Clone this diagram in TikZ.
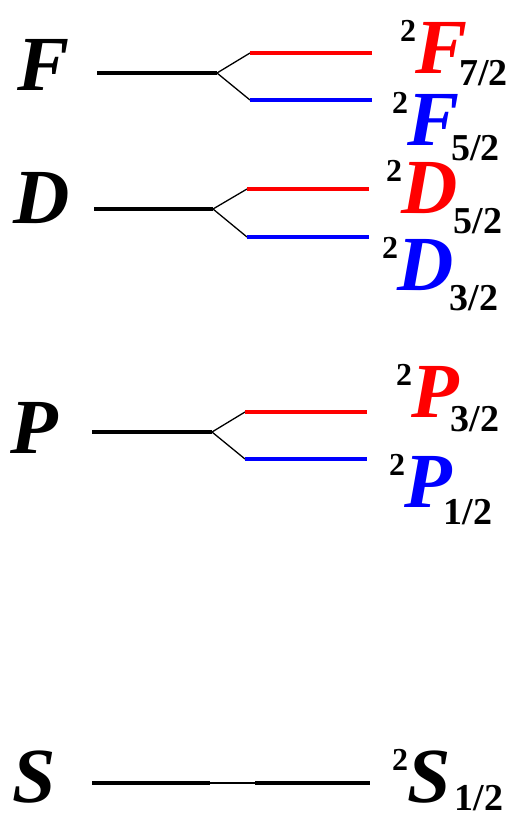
\documentclass[tikz,border=0pt]{standalone}
\usepackage{fontspec}
\setmainfont{Liberation Serif}
\usetikzlibrary{positioning}

% big term letter, small multiplicity and j
\newcommand{\bigL}{\fontsize{78}{78}\selectfont\bfseries\itshape}
\newcommand{\termlbl}[5][-8pt]{%
  \raisebox{32pt}{\fontsize{32}{32}\selectfont\bfseries 2}\kern-1pt%
  {\color{#2}\bigL #3}\kern#1%
  \raisebox{-#5pt}{\fontsize{38}{38}\selectfont\bfseries #4}}

\begin{document}
\begin{tikzpicture}[
  x=1pt, y=-1pt,
  level/.style={line width=4pt},
  split/.style={line width=1.3pt},
  orb/.style={anchor=base west, inner sep=0pt, font=\bigL},
  term/.style={anchor=base west, inner sep=0pt},
]
\useasboundingbox (0,0) rectangle (513,820);

% --- level end points ---
\coordinate (Fs) at (97,73);   \coordinate (Fk) at (217,73);
\coordinate (Fhi) at (250,53); \coordinate (Fhie) at (372,53);
\coordinate (Flo) at (250,100);\coordinate (Floe) at (372,100);

\coordinate (Ds) at (94,209);  \coordinate (Dk) at (213,209);
\coordinate (Dhi) at (247,189);\coordinate (Dhie) at (369,189);
\coordinate (Dlo) at (247,237);\coordinate (Dloe) at (369,237);

\coordinate (Ps) at (92,432);  \coordinate (Pk) at (212,432);
\coordinate (Phi) at (245,412);\coordinate (Phie) at (367,412);
\coordinate (Plo) at (245,459);\coordinate (Ploe) at (367,459);

\coordinate (Ss) at (92,783);  \coordinate (Sk) at (210,783);
\coordinate (Sk2) at (255,783);\coordinate (Se) at (370,783);

% --- unsplit terms (left) ---
\node[orb] (F) at (17,90)  {F};
\node[orb] (D) at (13,223) {D};
\node[orb] (P) at (10,453) {P};
\node[orb] (S) at (12,802) {S};

% --- F ---
\draw[level] (Fs) -- (Fk);
\draw[split] (Fk) -- (Fhi);
\draw[split] (Fk) -- (Flo);
\draw[level, red]  (Fhi) -- (Fhie);
\draw[level, blue] (Flo) -- (Floe);

% --- D ---
\draw[level] (Ds) -- (Dk);
\draw[split] (Dk) -- (Dhi);
\draw[split] (Dk) -- (Dlo);
\draw[level, red]  (Dhi) -- (Dhie);
\draw[level, blue] (Dlo) -- (Dloe);

% --- P ---
\draw[level] (Ps) -- (Pk);
\draw[split] (Pk) -- (Phi);
\draw[split] (Pk) -- (Plo);
\draw[level, red]  (Phi) -- (Phie);
\draw[level, blue] (Plo) -- (Ploe);

% --- S (no splitting) ---
\draw[level] (Ss) -- (Sk);
\draw[split] (Sk) -- (Sk2);
\draw[level] (Sk2) -- (Se);

% --- fine-structure labels (right) ---
\node[term] (F72) at (400,73)  {\termlbl{red}{F}{7/2}{12}};
\node[term] (F52) at (392,145) {\termlbl{blue}{F}{5/2}{15}};
\node[term] (D52) at (386,213) {\termlbl[-4pt]{red}{D}{5/2}{20}};
\node[term] (D32) at (382,290) {\termlbl[-4pt]{blue}{D}{3/2}{20}};
\node[term] (P32) at (396,417) {\termlbl{red}{P}{3/2}{14}};
\node[term] (P12) at (389,507) {\termlbl{blue}{P}{1/2}{17}};
\node[term] (S12) at (392,802) {\termlbl[4pt]{black}{S}{1/2}{8}};

\end{tikzpicture}
\end{document}
